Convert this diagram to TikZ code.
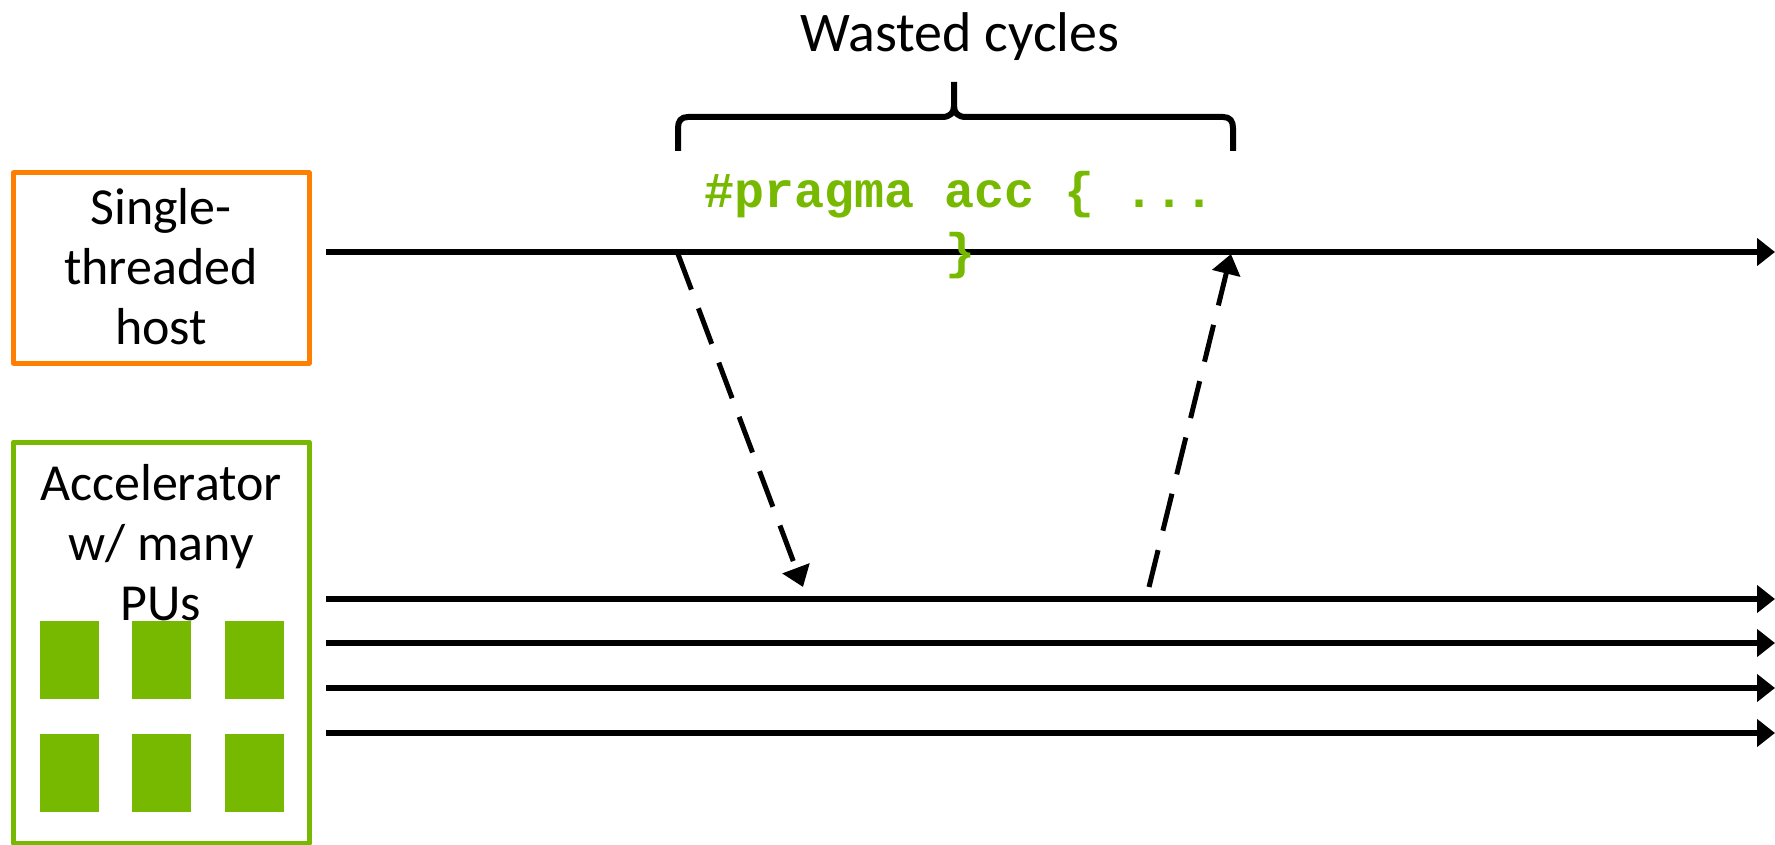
\documentclass[tikz,border=0pt]{standalone}
\usepackage{fontspec}
\setmainfont{Carlito}
\newfontfamily\codefont{Liberation Mono}
\usetikzlibrary{arrows.meta}
\definecolor{nvgreen}{HTML}{76B900}
\definecolor{hostorange}{HTML}{FF8000}
\begin{document}
\begin{tikzpicture}[x=1pt,y=-1pt,line join=round,
  box/.style={draw,line width=5pt,inner sep=0pt},
  label/.style={anchor=base,inner sep=0pt,font=\fontsize{52}{60}\selectfont},
  pu/.style={fill=nvgreen,inner sep=0pt,minimum width=59pt,minimum height=78pt},
  timeline/.style={line width=5.5pt,-{Triangle[length=18pt,width=27pt]}},
  dasharrow/.style={line width=5pt,dash pattern=on 38pt off 20pt,-{Triangle[length=20pt,width=28pt]}},
  brace/.style={line width=6pt}]
\useasboundingbox (0,0) rectangle (1775,845);

% boxes
\node[box,draw=hostorange,minimum width=295.5pt,minimum height=190pt] (host) at (161.25,268) {};
\node[box,draw=nvgreen,minimum width=295.5pt,minimum height=401pt] (acc) at (161.25,642.5) {};

% box labels
\node[label] (hosttext) at (161,225) {\setlength\tabcolsep{0pt}\begin{tabular}[t]{c}Single-\\threaded\\host\end{tabular}};
\node[label] (acctext) at (161,500) {\setlength\tabcolsep{0pt}\begin{tabular}[t]{c}Accelerator\\w/ many\\PUs\end{tabular}};

% processing units
\node[pu] (pu1) at (69.5,660) {};
\node[pu] (pu2) at (161.5,660) {};
\node[pu] (pu3) at (254.5,660) {};
\node[pu] (pu4) at (69.5,772.5) {};
\node[pu] (pu5) at (161.5,772.5) {};
\node[pu] (pu6) at (254.5,772.5) {};

% timelines
\coordinate (h0) at (326,252);  \coordinate (h1) at (1775,252);
\coordinate (a0) at (326,599);  \coordinate (a1) at (1775,599);
\coordinate (b0) at (326,643);  \coordinate (b1) at (1775,643);
\coordinate (c0) at (326,688);  \coordinate (c1) at (1775,688);
\coordinate (d0) at (326,733);  \coordinate (d1) at (1775,733);
\draw[timeline] (h0) -- (h1);
\draw[timeline] (a0) -- (a1);
\draw[timeline] (b0) -- (b1);
\draw[timeline] (c0) -- (c1);
\draw[timeline] (d0) -- (d1);

% offload / return arrows
\coordinate (launch) at (678,254);
\coordinate (arrive) at (803,587);
\coordinate (finish) at (1149,587);
\coordinate (resume) at (1231,254);
\draw[dasharrow] (launch) -- (arrive);
\draw[dasharrow] (finish) -- (resume);

% code
\node[anchor=base,inner sep=0pt,text=nvgreen,font=\codefont\bfseries\fontsize{50}{60}\selectfont] (code) at (960,208)
  {\setlength\tabcolsep{0pt}\begin{tabular}[t]{c}\#pragma acc \{ ...\\\}\end{tabular}};

% brace and title
\draw[brace] (678,151) -- (678,128) .. controls (678,121) and (681,117) .. (688,117) -- (942,117)
  .. controls (950,117) and (954,113) .. (954,106) -- (954,82);
\draw[brace] (954,106) .. controls (954,113) and (958,117) .. (966,117) -- (1223,117)
  .. controls (1230,117) and (1233,121) .. (1233,128) -- (1233,151);
\node[anchor=base,inner sep=0pt,font=\fontsize{56}{60}\selectfont] (title) at (960,52) {Wasted cycles};
\end{tikzpicture}
\end{document}
